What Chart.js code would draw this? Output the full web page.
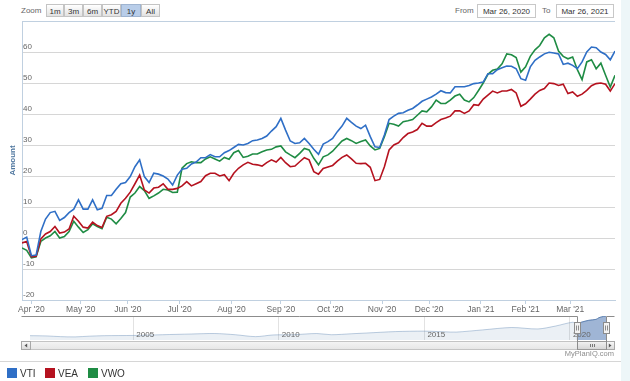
<!DOCTYPE html>
<html>
<head>
<meta charset="utf-8">
<script src="https://cdn.jsdelivr.net/npm/chart.js@4.4.1/dist/chart.umd.min.js"></script>
<style>
  body { margin: 0; background: #fff; font-family: "Liberation Sans", Arial, sans-serif; }
  #wrap { position: relative; width: 630px; height: 381px; overflow: hidden; }
  #strip { position: absolute; left: 621px; top: 0; width: 9px; height: 381px; background: #edf6f8; }
  canvas { position: absolute; left: 0; }
  .lbl { position: absolute; font-size: 8px; color: #666; top: 6px; }
  .btn { position: absolute; top: 4px; height: 13px; line-height: 13px; font-size: 8px; color: #333; text-align: center;
         border: 1px solid #c4c4c4; box-sizing: border-box; background: linear-gradient(#ffffff, #e2e2e2); }
  .btn.on { background: #b8cde9; border-color: #9fb4d0; }
  .box { position: absolute; top: 4px; height: 14px; line-height: 13px; font-size: 8px; color: #333; text-align: center;
         border: 1px solid #c8c8c8; box-sizing: border-box; background: #fff; }
  #credit { position: absolute; right: 16px; top: 349px; font-size: 7.5px; color: #8e8e8e; }
  #sep { position: absolute; left: 0; top: 361px; width: 621px; height: 1px; background: #d6d6d6; }
  .leg { position: absolute; top: 368px; font-family: "Liberation Sans Narrow", "Liberation Sans", Arial; font-size: 10px; color: #333; line-height: 11px; }
  .leg i { position: absolute; left: 0; top: 0; width: 10px; height: 10px; }
  .leg span { position: absolute; left: 13px; top: 0; }
</style>
</head>
<body>
<div id="wrap">
  <div id="strip"></div>
  <div class="lbl" style="left:21px">Zoom</div>
  <div class="btn" style="left:46px;width:18px">1m</div>
  <div class="btn" style="left:64px;width:19px">3m</div>
  <div class="btn" style="left:83px;width:19px">6m</div>
  <div class="btn" style="left:102px;width:19px">YTD</div>
  <div class="btn on" style="left:121px;width:20px">1y</div>
  <div class="btn" style="left:141px;width:19px">All</div>
  <div class="lbl" style="left:455px">From</div>
  <div class="box" style="left:477px;width:59px">Mar 26, 2020</div>
  <div class="lbl" style="left:542px">To</div>
  <div class="box" style="left:556px;width:58px">Mar 26, 2021</div>

  <canvas id="mainChart" width="630" height="318" style="top:0"></canvas>
  <canvas id="navChart" width="630" height="40" style="top:312px"></canvas>

  <div id="credit">MyPlanIQ.com</div>
  <div id="sep"></div>
  <div id="legend"></div>
</div>

<script>
// trading-day index since Mar 26, 2020 (every 2nd session)
const tradingDays = [
  0, 2, 4, 6, 8, 10, 12, 14, 16, 18,
  20, 22, 24, 26, 28, 30, 32, 34, 36, 38,
  40, 42, 44, 46, 48, 50, 52, 54, 56, 58,
  60, 62, 64, 66, 68, 70, 72, 74, 76, 78,
  80, 82, 84, 86, 88, 90, 92, 94, 96, 98,
  100, 102, 104, 106, 108, 110, 112, 114, 116, 118,
  120, 122, 124, 126, 128, 130, 132, 134, 136, 138,
  140, 142, 144, 146, 148, 150, 152, 154, 156, 158,
  160, 162, 164, 166, 168, 170, 172, 174, 176, 178,
  180, 182, 184, 186, 188, 190, 192, 194, 196, 198,
  200, 202, 204, 206, 208, 210, 212, 214, 216, 218,
  220, 222, 224, 226, 228, 230, 232, 234, 236, 238,
  240, 242, 244, 246, 248, 250, 252
];

const vti = [
  -0.5, 0.3, -5.7, -5.5, 2.1, 6.1, 8.2, 8.6, 5.7, 6.6,
  8.2, 9.3, 12.3, 9.3, 9.3, 12.3, 9.1, 9.6, 13.7, 13.7,
  15.7, 17.5, 17.9, 19.8, 23.0, 25.2, 19.8, 17.9, 20.9, 20.6,
  20.0, 19.0, 17.1, 20.3, 22.2, 22.5, 23.9, 24.5, 25.9, 25.9,
  26.9, 26.2, 26.2, 27.5, 28.2, 29.2, 30.2, 30.0, 30.5, 31.4,
  31.6, 32.1, 32.9, 34.5, 35.9, 38.6, 34.8, 31.3, 30.5, 30.7,
  32.1, 30.5, 28.6, 27.0, 30.3, 31.1, 32.1, 34.3, 36.1, 38.6,
  37.3, 36.1, 35.3, 36.4, 32.7, 29.4, 29.2, 33.2, 38.2, 39.3,
  40.2, 40.4, 41.2, 41.8, 42.9, 44.1, 44.8, 45.5, 46.4, 47.5,
  46.9, 46.8, 48.8, 48.8, 48.8, 49.2, 49.8, 50.0, 50.3, 53.0,
  53.0, 54.3, 54.9, 55.5, 55.4, 54.6, 51.4, 50.9, 55.2, 57.3,
  58.4, 59.4, 59.9, 59.7, 59.4, 56.0, 56.4, 55.7, 54.6, 56.8,
  60.0, 61.6, 61.4, 60.0, 59.2, 57.5, 60.3
];

const vea = [
  -1.6, -1.1, -6.1, -5.9, -0.3, 1.3, 2.1, 3.7, 1.6, 1.9,
  2.9, 7.0, 5.4, 3.5, 3.2, 5.1, 4.0, 3.4, 7.0, 7.5,
  8.6, 11.2, 12.8, 14.8, 17.5, 20.3, 15.5, 14.5, 16.1, 16.4,
  17.5, 15.7, 15.7, 16.0, 16.8, 18.2, 16.8, 17.5, 18.2, 20.1,
  20.9, 20.9, 20.0, 20.4, 18.5, 20.9, 22.5, 23.6, 24.4, 23.8,
  23.6, 23.2, 24.3, 25.2, 24.5, 26.0, 24.3, 23.0, 23.2, 24.6,
  25.9, 25.2, 21.4, 20.6, 22.4, 22.9, 23.4, 24.8, 26.0, 26.8,
  25.5, 24.1, 24.0, 24.1, 22.8, 18.5, 18.9, 23.0, 28.4, 30.0,
  30.7, 32.4, 33.7, 34.2, 35.0, 37.0, 36.1, 36.1, 37.2, 38.2,
  38.7, 39.3, 41.0, 41.0, 40.2, 41.0, 43.0, 42.8, 44.8, 46.1,
  47.4, 46.8, 47.4, 47.4, 47.9, 46.8, 42.5, 43.3, 44.8, 46.4,
  47.6, 48.2, 50.0, 49.8, 49.2, 49.6, 46.6, 47.1, 45.7, 46.4,
  47.6, 49.1, 49.8, 50.0, 49.6, 47.4, 49.8
];

const vwo = [
  -3.2, -4.0, -6.4, -6.1, -1.1, 0.0, 0.7, 2.1, 0.0, 0.5,
  2.1, 5.4, 3.5, 1.8, 2.7, 4.6, 3.7, 3.0, 6.7, 6.1,
  4.6, 6.3, 8.2, 13.2, 14.5, 16.6, 15.3, 12.8, 13.6, 14.5,
  15.7, 15.5, 14.7, 14.8, 22.5, 24.0, 24.6, 24.3, 24.3, 25.5,
  26.2, 25.5, 24.8, 26.0, 25.4, 27.5, 28.2, 26.0, 26.4, 27.1,
  27.1, 27.8, 28.4, 28.6, 29.4, 29.7, 27.8, 26.8, 25.9, 27.3,
  28.9, 28.4, 25.7, 23.6, 26.2, 26.8, 28.0, 29.7, 31.3, 32.1,
  31.4, 30.5, 31.1, 31.6, 29.7, 28.4, 28.9, 32.7, 37.0, 36.7,
  36.1, 37.5, 37.8, 38.2, 39.6, 41.0, 40.7, 42.3, 44.5, 43.4,
  43.4, 44.5, 45.8, 46.4, 44.5, 43.9, 45.3, 47.6, 50.0, 52.8,
  54.1, 54.5, 56.2, 59.4, 59.1, 58.2, 53.5, 55.2, 58.6, 60.7,
  62.1, 64.6, 65.7, 64.6, 60.3, 58.6, 57.8, 58.4, 54.3, 51.1,
  56.8, 57.5, 54.6, 56.4, 52.5, 48.7, 52.5
];

// first trading day of each month (index) and its label
const monthTicks = [4, 25, 45, 67, 89, 110, 131, 153, 173, 195, 214, 233];
const monthLabels = ["Apr '20", "May '20", "Jun '20", "Jul '20", "Aug '20", "Sep '20",
                     "Oct '20", "Nov '20", "Dec '20", "Jan '21", "Feb '21", "Mar '21"];

// navigator (long history, relative height)
const navYears = [2001.45, 2002.0, 2002.5, 2003.0, 2003.5, 2004.0, 2005.0, 2006.0, 2007.0, 2007.8,
                  2008.5, 2009.2, 2009.8, 2010.5, 2011.3, 2011.8, 2012.5, 2013.0, 2014.0, 2015.0,
                  2015.7, 2016.1, 2017.0, 2018.0, 2018.9, 2019.5, 2020.1, 2020.2, 2020.23, 2020.45,
                  2020.65, 2020.9, 2021.0, 2021.15, 2021.24];
const navValues = [18, 17, 14, 13, 16, 18, 19, 22, 25, 27,
                   22, 14, 21, 22, 27, 22, 26, 29, 35, 37,
                   34, 33, 42, 52, 46, 58, 74, 66, 68, 76,
                   82, 86, 93, 98, 100];
const navTicks = [2005, 2010, 2015, 2020];
const navRange = [2020.23, 2021.23];

const seriesNames = ['VTI', 'VEA', 'VWO'];
const seriesColors = ['#2f6fc6', '#b5121f', '#1f8c44'];

const FONT = '"Liberation Sans", Arial, sans-serif';

function toPoints(vals) {
    return vals.map((v, i) => ({ x: tradingDays[i], y: v }));
}

const ctx = document.getElementById('mainChart').getContext('2d');
const mainChart = new Chart(ctx, {
    type: 'line',
    data: {
        datasets: [vti, vea, vwo].map((vals, i) => ({
            label: seriesNames[i],
            data: toPoints(vals),
            borderColor: seriesColors[i],
            borderWidth: 1.6,
            pointRadius: 0,
            tension: 0,
            fill: false
        }))
    },
    options: {
        responsive: false,
        animation: false,
        layout: { padding: { left: 0, right: 15, top: 21, bottom: 0 } },
        plugins: {
            legend: { display: false },
            tooltip: { enabled: false }
        },
        scales: {
            x: {
                type: 'linear',
                min: 0,
                max: 252,
                afterBuildTicks: (scale) => { scale.ticks = monthTicks.map(v => ({ value: v })); },
                afterFit: (scale) => { scale.height = 18; },
                ticks: {
                    autoSkip: false,
                    maxRotation: 0,
                    padding: 1,
                    color: '#666',
                    font: { family: FONT, size: 8.5 },
                    callback: (v) => {
                        const i = monthTicks.indexOf(v);
                        return i >= 0 ? monthLabels[i] : '';
                    }
                },
                grid: { drawOnChartArea: false, tickLength: 4, color: '#c0d0e0' },
                border: { color: '#c0d0e0' }
            },
            y: {
                min: -20,
                max: 70,
                afterFit: (scale) => { scale.width = 22; },
                ticks: {
                    stepSize: 10,
                    mirror: true,
                    padding: 1,
                    labelOffset: -5,
                    color: '#666',
                    font: { family: FONT, size: 8 },
                    callback: (v) => (v === 70 ? '' : v)
                },
                grid: {
                    drawTicks: false,
                    color: (c) => (c.tick && c.tick.value === 70 ? '#c0d0e0' : '#d6d6d6')
                },
                border: { color: '#c0d0e0' },
                title: {
                    display: true,
                    text: 'Amount',
                    color: '#4d759e',
                    font: { family: FONT, size: 8, weight: 'bold' },
                    padding: { top: 8, bottom: 0 }
                }
            }
        }
    }
});

// navigator decorations: year labels, outline, scrollbar, handles
const navDecor = {
    id: 'navDecor',
    afterDraw(chart) {
        const c = chart.ctx;
        const a = chart.chartArea;
        const xs = chart.scales.x;
        const x0 = Math.round(xs.getPixelForValue(navRange[0])) + 0.5;
        const x1 = Math.round(xs.getPixelForValue(navRange[1])) + 0.5;
        c.save();

        c.font = '8px ' + FONT;
        c.fillStyle = '#666';
        c.textBaseline = 'middle';
        navTicks.forEach(y => c.fillText(String(y), xs.getPixelForValue(y) + 3, a.bottom - 5));

        // scrollbar
        const sTop = a.bottom + 1.5, sH = 8, sL = 21.5, sR = 614.5;
        let g = c.createLinearGradient(0, sTop, 0, sTop + sH);
        g.addColorStop(0, '#f4f4f4'); g.addColorStop(1, '#e6e6e6');
        c.fillStyle = g;
        c.fillRect(sL, sTop, sR - sL, sH);
        c.strokeStyle = '#c4c4c4';
        c.lineWidth = 1;
        c.strokeRect(sL, sTop, sR - sL, sH);

        // buttons
        [[sL, 9, -1], [sR - 9, 9, 1]].forEach(([bx, bw, dir]) => {
            g = c.createLinearGradient(0, sTop, 0, sTop + sH);
            g.addColorStop(0, '#fafafa'); g.addColorStop(1, '#d9d9d9');
            c.fillStyle = g;
            c.fillRect(bx, sTop, bw, sH);
            c.strokeStyle = '#a8a8a8';
            c.strokeRect(bx, sTop, bw, sH);
            const cx = bx + bw / 2, cy = sTop + sH / 2;
            c.fillStyle = '#555';
            c.beginPath();
            c.moveTo(cx + dir * 1.5, cy);
            c.lineTo(cx - dir * 1.2, cy - 2);
            c.lineTo(cx - dir * 1.2, cy + 2);
            c.closePath();
            c.fill();
        });

        // thumb
        g = c.createLinearGradient(0, sTop, 0, sTop + sH);
        g.addColorStop(0, '#f2f2f2'); g.addColorStop(1, '#d4d4d4');
        c.fillStyle = g;
        c.fillRect(x0, sTop, x1 - x0, sH);
        c.strokeStyle = '#999';
        c.strokeRect(x0, sTop, x1 - x0, sH);
        const mid = Math.round((x0 + x1) / 2) + 0.5;
        c.strokeStyle = '#777';
        c.beginPath();
        [-2, 0, 2].forEach(d => { c.moveTo(mid + d, sTop + 2.5); c.lineTo(mid + d, sTop + sH - 2.5); });
        c.stroke();

        // outline
        c.strokeStyle = '#8c8c8c';
        c.beginPath();
        c.moveTo(21.5, a.top + 0.5);
        c.lineTo(x0, a.top + 0.5);
        c.lineTo(x0, sTop + sH);
        c.moveTo(x1, sTop + sH);
        c.lineTo(x1, a.top + 0.5);
        c.lineTo(sR, a.top + 0.5);
        c.stroke();

        // handles
        [x0, x1].forEach(hx => {
            const hy = a.top + 6.5, hw = 6, hh = 11;
            c.fillStyle = '#f2f2f2';
            c.strokeStyle = '#8c8c8c';
            c.fillRect(hx - hw / 2, hy, hw, hh);
            c.strokeRect(hx - hw / 2, hy, hw, hh);
            c.beginPath();
            c.moveTo(hx - 1, hy + 3); c.lineTo(hx - 1, hy + hh - 3);
            c.moveTo(hx + 1, hy + 3); c.lineTo(hx + 1, hy + hh - 3);
            c.stroke();
        });
        c.restore();
    }
};

const navPoints = navValues.map((v, i) => ({ x: navYears[i], y: v }));
const ctx2 = document.getElementById('navChart').getContext('2d');
const navChart = new Chart(ctx2, {
    type: 'line',
    data: {
        datasets: [{
            data: navPoints,
            borderColor: 'rgba(69,114,167,0.35)',
            backgroundColor: 'rgba(69,114,167,0.11)',
            borderWidth: 1,
            pointRadius: 0,
            tension: 0.3,
            fill: 'start'
        }, {
            // selected part of the navigator series
            data: navPoints.filter(p => p.x >= navRange[0]),
            borderColor: '#7590bb',
            backgroundColor: 'rgba(100,135,190,0.55)',
            borderWidth: 1,
            pointRadius: 0,
            tension: 0.3,
            fill: 'start'
        }]
    },
    options: {
        responsive: false,
        animation: false,
        layout: { padding: { left: 30, right: 24, top: 4, bottom: 12 } },
        plugins: { legend: { display: false }, tooltip: { enabled: false } },
        scales: {
            x: {
                type: 'linear',
                min: 2001.45,
                max: 2021.24,
                afterBuildTicks: (scale) => { scale.ticks = navTicks.map(v => ({ value: v })); },
                afterFit: (scale) => { scale.height = 0; },
                ticks: { display: false },
                grid: { drawTicks: false, color: '#e2e2e2' },
                border: { display: false }
            },
            y: { display: false, min: 0, max: 100 }
        }
    },
    plugins: [navDecor]
});

// html legend
const legend = document.getElementById('legend');
const legendX = [7, 45, 88];
seriesNames.forEach((name, i) => {
    const d = document.createElement('div');
    d.className = 'leg';
    d.style.left = legendX[i] + 'px';
    d.innerHTML = '<i style="background:' + seriesColors[i] + '"></i><span>' + name + '</span>';
    legend.appendChild(d);
});
</script>
</body>
</html>
